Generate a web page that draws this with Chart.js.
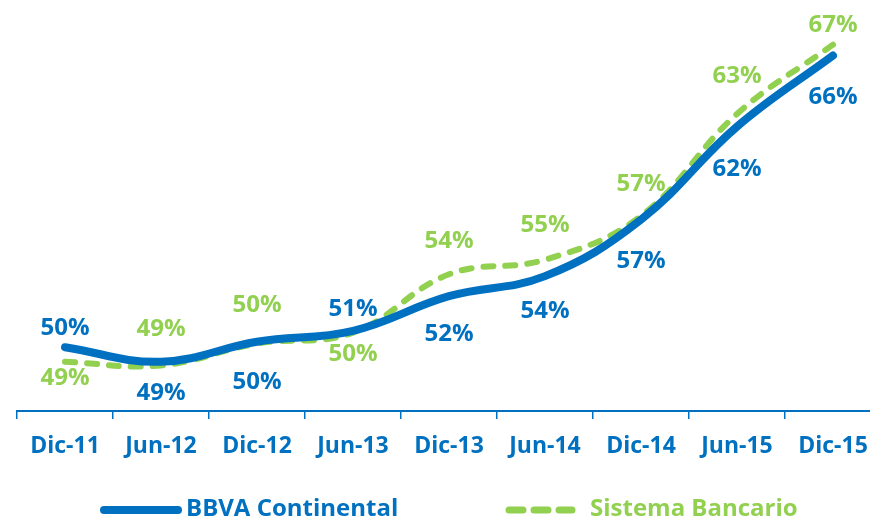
<!DOCTYPE html>
<html lang="es">
<head>
    <meta charset="UTF-8">
    <title>BBVA Continental vs Sistema Bancario</title>
    <script src="https://cdn.jsdelivr.net/npm/chart.js"></script>
    <style>
        html, body {
            margin: 0;
            padding: 0;
            background: #ffffff;
            overflow: hidden;
        }
        #wrap {
            width: 890px;
            height: 522px;
        }
    </style>
</head>
<body>
    <div id="wrap"><canvas id="ratioChart" width="890" height="522"></canvas></div>

    <script>
        // periods on the x axis
        const periods = ['Dic-11', 'Jun-12', 'Dic-12', 'Jun-13', 'Dic-13', 'Jun-14', 'Dic-14', 'Jun-15', 'Dic-15'];

        // values
        const bbvaValues = [50.0, 49.2, 50.3, 50.9, 52.8, 53.9, 57.0, 62.1, 66.0];
        const sistemaValues = [49.2, 49.0, 50.2, 50.8, 54.0, 54.8, 57.2, 62.8, 66.6];

        // the printed labels
        const bbvaLabels = ['50%', '49%', '50%', '51%', '52%', '54%', '57%', '62%', '66%'];
        const sistemaLabels = ['49%', '49%', '50%', '50%', '54%', '55%', '57%', '63%', '67%'];

        const BLUE = '#0070C0';
        const GREEN = '#92D050';
        const FONT = "'Open Sans', sans-serif";

        // draws the % labels next to each point
        const pointLabels = {
            id: 'pointLabels',
            afterDatasetsDraw(chart, args, opts) {
                const ctx = chart.ctx;
                ctx.save();
                ctx.font = 'bold 24px ' + FONT;
                ctx.textAlign = 'center';
                ctx.textBaseline = 'middle';
                chart.data.datasets.forEach((ds, di) => {
                    const meta = chart.getDatasetMeta(di);
                    const offs = opts.offsets[di];
                    ctx.fillStyle = ds.borderColor;
                    meta.data.forEach((pt, i) => {
                        ctx.fillText(ds.valueLabels[i], pt.x, pt.y + offs[i]);
                    });
                });
                ctx.restore();
            }
        };

        // legend along the bottom: line sample + name
        const bottomLegend = {
            id: 'bottomLegend',
            afterDraw(chart, args, opts) {
                const ctx = chart.ctx;
                ctx.save();
                ctx.font = 'bold 24px ' + FONT;
                ctx.textBaseline = 'middle';
                ctx.textAlign = 'left';
                chart.data.datasets.forEach((ds, di) => {
                    const item = opts.items[di];
                    ctx.strokeStyle = ds.borderColor;
                    ctx.lineWidth = item.width;
                    ctx.lineCap = 'round';
                    ctx.setLineDash(item.dash);
                    ctx.beginPath();
                    ctx.moveTo(item.x0, opts.y);
                    ctx.lineTo(item.x1, opts.y);
                    ctx.stroke();
                    ctx.setLineDash([]);
                    ctx.fillStyle = ds.borderColor;
                    ctx.fillText(ds.label, item.tx, opts.y - 1);
                });
                ctx.restore();
            }
        };

        const ctx = document.getElementById('ratioChart').getContext('2d');
        const ratioChart = new Chart(ctx, {
            type: 'line',
            data: {
                labels: periods,
                datasets: [
                    {
                        label: 'BBVA Continental',
                        data: bbvaValues,
                        valueLabels: bbvaLabels,
                        borderColor: BLUE,
                        borderWidth: 8,
                        borderCapStyle: 'round',
                        tension: 0.4,
                        pointRadius: 0,
                        fill: false
                    },
                    {
                        label: 'Sistema Bancario',
                        data: sistemaValues,
                        valueLabels: sistemaLabels,
                        borderColor: GREEN,
                        borderWidth: 6,
                        borderDash: [10, 12],
                        borderCapStyle: 'round',
                        tension: 0.4,
                        pointRadius: 0,
                        fill: false
                    }
                ]
            },
            options: {
                responsive: false,
                animation: false,
                layout: {
                    padding: { left: 17, right: 9, top: 10, bottom: 0 }
                },
                plugins: {
                    legend: { display: false },
                    tooltip: { enabled: false },
                    pointLabels: {
                        offsets: [
                            [-19, 31, 40, -22, 38, 35, 42, 43, 42],
                            [16, -36, -38, 22, -33, -35, -32, -38, -19]
                        ]
                    },
                    bottomLegend: {
                        y: 510,
                        items: [
                            { x0: 104, x1: 178, tx: 186, width: 8, dash: [] },
                            { x0: 509, x1: 572, tx: 590, width: 7, dash: [14, 11] }
                        ]
                    }
                },
                scales: {
                    x: {
                        offset: true,
                        afterFit(scale) { scale.height = 111; },
                        border: { display: true, color: BLUE, width: 2 },
                        grid: {
                            offset: true,
                            drawOnChartArea: false,
                            drawTicks: true,
                            tickLength: 8,
                            color: BLUE,
                            lineWidth: 1.5
                        },
                        ticks: {
                            color: BLUE,
                            padding: 14,
                            maxRotation: 0,
                            autoSkip: false,
                            font: { family: FONT, size: 23, weight: 'bold' }
                        }
                    },
                    y: {
                        display: false,
                        min: 46.5,
                        max: 68.5
                    }
                }
            },
            plugins: [pointLabels, bottomLegend]
        });
    </script>
</body>
</html>
